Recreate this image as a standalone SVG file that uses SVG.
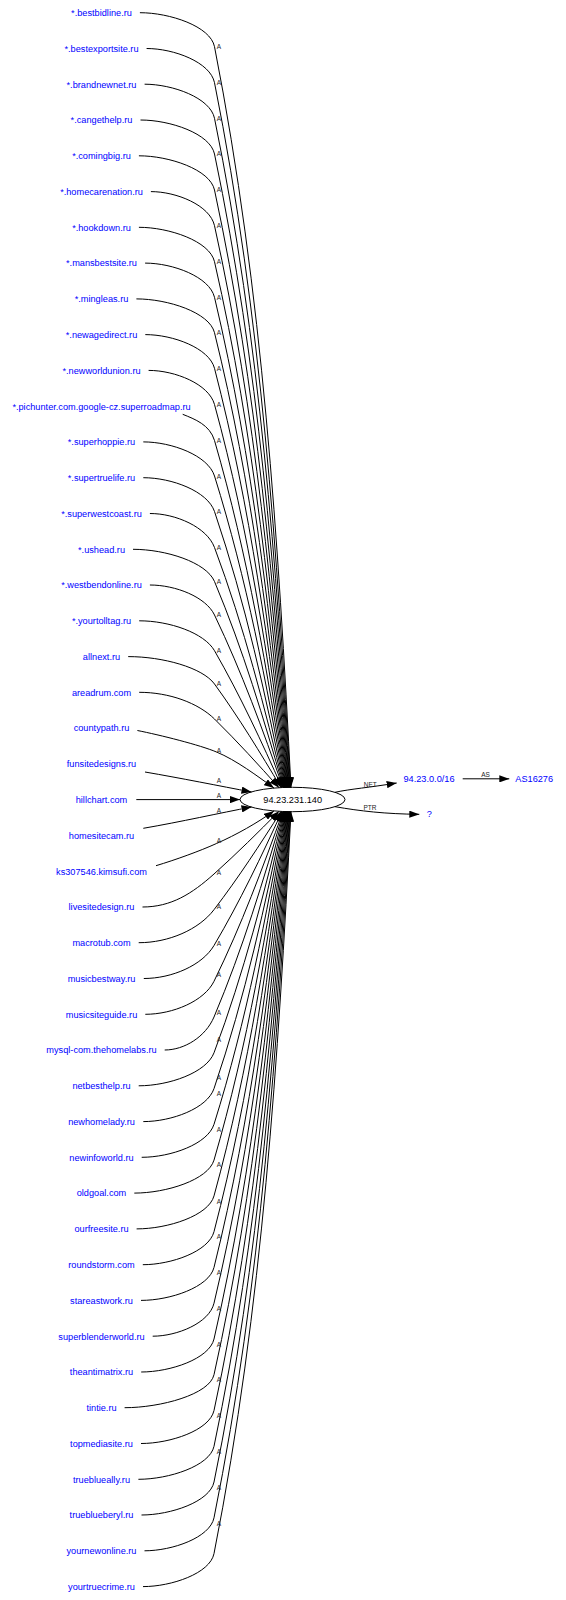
<svg xmlns="http://www.w3.org/2000/svg" width="566" height="1600" viewBox="0 0 566 1600">
<style>
text{font-family:"Liberation Sans",Arial,sans-serif}
.n{font-size:9.2px;fill:#0000ff;text-anchor:middle}
.c{font-size:9.2px;fill:#000;text-anchor:middle}
.l{font-size:6.5px;fill:#222;text-anchor:middle}
#edges path{fill:none;stroke:#000;stroke-width:1;marker-end:url(#ah)}
</style>
<defs>
<marker id="ah" viewBox="0 0 10 7.2" markerWidth="10" markerHeight="7.2" refX="10" refY="3.6" orient="auto" markerUnits="userSpaceOnUse"><path d="M0,0 L10,3.6 L0,7.2 z" fill="#000"/></marker>
</defs>
<rect width="566" height="1600" fill="#fff"/>
<g id="n-center"><ellipse cx="292.5" cy="799.5" rx="52.5" ry="12.2" fill="#fff" stroke="#000"/><text class="c" x="292.7" y="802.8">94.23.231.140</text></g>
<g id="edges">
<path d="M139.9,12.7 C169.7,12.7 210.5,26.3 214.5,46.7 C262.9,293.6 278.3,540.6 291,787.5"/>
<path d="M146.6,48.5 C173.8,48.5 210.4,62.2 214.5,82.7 C261.5,317.6 277.2,552.6 290.5,787.5"/>
<path d="M144.6,84.2 C172.6,84.2 210.3,97.8 214.5,118.3 C260.1,341.4 276.2,564.4 290,787.5"/>
<path d="M140.5,120 C170.1,120 210.2,133.6 214.5,154 C258.7,365.2 275.2,576.3 289.5,787.5"/>
<path d="M138.9,155.8 C169.1,155.8 210.1,169.5 214.5,190 C257.3,389.2 274.2,588.3 289,787.5"/>
<path d="M150.9,191.6 C176.3,191.6 210,205.2 214.5,225.7 C256,413 273.2,600.2 288.5,787.5"/>
<path d="M138.9,227.3 C169.1,227.3 209.8,241.1 214.5,261.7 C254.7,437 272.2,612.2 288,787.5"/>
<path d="M145.1,263.1 C172.9,263.1 209.6,276.8 214.5,297.3 C253.3,460.7 271.2,624.1 287.5,787.5"/>
<path d="M136.4,298.9 C167.6,298.9 209.5,312.4 214.5,332.7 C252,484.3 270.2,635.9 287,787.5"/>
<path d="M145.3,334.6 C173,334.6 209.3,348.1 214.5,368.3 C250.7,508 269.3,647.8 286.5,787.5"/>
<path d="M148.6,370.4 C175,370.4 208.9,384 214.5,404.5 C249.4,532.2 268.3,659.8 286,787.5"/>
<path d="M182.7,414.3 C194.7,419.1 209.9,424.8 214.5,440.5 C248.1,556.2 267.4,671.8 285.5,787.5"/>
<path d="M143.3,441.9 C171.8,441.9 208.1,455.5 214.5,476 C246.9,579.8 266.5,683.7 285,787.5"/>
<path d="M143.3,477.7 C171.8,477.7 207.6,491.2 214.5,511.5 C245.7,603.5 265.5,695.5 284.5,787.5"/>
<path d="M149.9,513.5 C175.7,513.5 206.9,527.1 214.5,547.5 C244.4,627.5 264.6,707.5 284,787.5"/>
<path d="M133,549.3 C165.6,549.3 206.4,562.2 214.5,581.5 C243.3,650.2 263.7,718.8 283.5,787.5"/>
<path d="M149.9,585 C175.7,585 205.9,597 214.5,615 C242.1,672.5 262.8,730 283,787.5"/>
<path d="M139.2,620.8 C169.3,620.8 204.2,632.8 214.5,650.7 C240.7,696.3 261.6,741.9 282,787.5"/>
<path d="M128.2,656.6 C162.7,656.6 202.6,667.6 214.5,684 C239.5,718.5 260.4,753 281,787.5"/>
<path d="M139.2,692.3 C169.3,692.3 198.2,703 214.5,719 C237.8,741.9 258.5,764.8 279,787.7"/>
<path d="M137.4,730.5 C160,735 200,745 216.5,752 C236,760 258,776.5 274,788.1"/>
<path d="M145,772 C180,778 220,786 251.5,792"/>
<path d="M136.3,799.6 L240,799.6"/>
<path d="M143.3,828.3 C180,822 220,813 251.5,807"/>
<path d="M156,865.7 C175,860 200,851 216.5,843.5 C236,835 258,822.5 274,810.9"/>
<path d="M142.5,907 C171.1,907 191.9,893.8 214,874 C237.3,853.1 258.3,832.2 279,811.3"/>
<path d="M138.7,942.7 C168.8,942.7 198.9,929.5 214,909.7 C239,877 260.2,844.2 281,811.5"/>
<path d="M143.8,978.5 C171.9,978.5 202.3,965.3 214,945.5 C240.4,900.8 261.4,856.2 282,811.5"/>
<path d="M145.3,1014.3 C172.8,1014.3 204.3,1001.1 214,981.3 C241.7,924.7 262.6,868.1 283,811.5"/>
<path d="M164.7,1050 C184.4,1050 205.6,1036.8 214,1017 C242.9,948.5 263.5,880 283.5,811.5"/>
<path d="M138.7,1085.8 C168.8,1085.8 206.6,1072.6 214,1052.8 C244.2,972.4 264.5,891.9 284,811.5"/>
<path d="M143.3,1121.6 C171.6,1121.6 207.3,1108.4 214,1088.6 C245.4,996.2 265.4,903.9 284.5,811.5"/>
<path d="M141.7,1157.3 C170.6,1157.3 207.8,1144.1 214,1124.3 C246.7,1020 266.3,915.8 285,811.5"/>
<path d="M134.3,1193.1 C166.2,1193.1 208.2,1179.9 214,1160.1 C247.9,1043.9 267.3,927.7 285.5,811.5"/>
<path d="M136.6,1228.9 C167.7,1228.9 208.6,1215.7 214,1195.9 C249.2,1067.8 268.2,939.6 286,811.5"/>
<path d="M142.8,1264.7 C171.3,1264.7 208.8,1251.5 214,1231.7 C250.5,1091.6 269.2,951.6 286.5,811.5"/>
<path d="M141,1300.4 C170.2,1300.4 209.1,1287.2 214,1267.4 C251.8,1115.4 270.1,963.5 287,811.5"/>
<path d="M152.7,1336.2 C177.2,1336.2 209.3,1323 214,1303.2 C253.1,1139.3 271.1,975.4 287.5,811.5"/>
<path d="M141.2,1372 C170.3,1372 209.4,1358.8 214,1339 C254.5,1163.2 272.1,987.3 288,811.5"/>
<path d="M124.6,1407.7 C160.4,1407.7 209.6,1394.5 214,1374.7 C255.8,1187 273.1,999.2 288.5,811.5"/>
<path d="M141,1443.5 C170.2,1443.5 209.7,1430.3 214,1410.5 C257.2,1210.8 274.1,1011.2 289,811.5"/>
<path d="M138.4,1479.3 C168.6,1479.3 209.8,1466.1 214,1446.3 C258.6,1234.7 275.1,1023.1 289.5,811.5"/>
<path d="M141.5,1515 C170.5,1515 209.9,1501.8 214,1482 C260,1258.5 276.1,1035 290,811.5"/>
<path d="M144.5,1550.8 C172.3,1550.8 210,1537.6 214,1517.8 C261.4,1282.4 277.2,1046.9 290.5,811.5"/>
<path d="M143,1586.6 C171.4,1586.6 210.1,1573.4 214,1553.6 C262.8,1306.2 278.2,1058.9 291,811.5"/>
<path d="M335,792.3 C350,789 370,787.5 396.7,783"/>
<path d="M335,806.7 C360,811 385,814 419.3,814.3"/>
<path d="M462.7,778.8 L509.3,778.8"/>
<g id="edge-labels">
<text class="l" x="219" y="49">A</text>
<text class="l" x="219" y="85">A</text>
<text class="l" x="219" y="120.6">A</text>
<text class="l" x="219" y="156.3">A</text>
<text class="l" x="219" y="192.3">A</text>
<text class="l" x="219" y="228">A</text>
<text class="l" x="219" y="264">A</text>
<text class="l" x="219" y="299.6">A</text>
<text class="l" x="219" y="335">A</text>
<text class="l" x="219" y="370.6">A</text>
<text class="l" x="219" y="407">A</text>
<text class="l" x="219" y="443.3">A</text>
<text class="l" x="219" y="479.3">A</text>
<text class="l" x="219" y="514">A</text>
<text class="l" x="219" y="550.3">A</text>
<text class="l" x="219" y="583.8">A</text>
<text class="l" x="219" y="617.3">A</text>
<text class="l" x="219" y="653">A</text>
<text class="l" x="219" y="686.3">A</text>
<text class="l" x="219" y="721.3">A</text>
<text class="l" x="219" y="752.5">A</text>
<text class="l" x="219" y="783.3">A</text>
<text class="l" x="219" y="797.8">A</text>
<text class="l" x="219" y="812.5">A</text>
<text class="l" x="219" y="843">A</text>
<text class="l" x="219" y="875.3">A</text>
<text class="l" x="219" y="909">A</text>
<text class="l" x="219" y="945.5">A</text>
<text class="l" x="219" y="977.3">A</text>
<text class="l" x="219" y="1014.8">A</text>
<text class="l" x="219" y="1042">A</text>
<text class="l" x="219" y="1080.3">A</text>
<text class="l" x="219" y="1095.6">A</text>
<text class="l" x="219" y="1132">A</text>
<text class="l" x="219" y="1167.3">A</text>
<text class="l" x="219" y="1203.8">A</text>
<text class="l" x="219" y="1239">A</text>
<text class="l" x="219" y="1275">A</text>
<text class="l" x="219" y="1310.6">A</text>
<text class="l" x="219" y="1346.6">A</text>
<text class="l" x="219" y="1382.3">A</text>
<text class="l" x="219" y="1418.3">A</text>
<text class="l" x="219" y="1454">A</text>
<text class="l" x="219" y="1489.6">A</text>
<text class="l" x="219" y="1525.6">A</text>
<text class="l" x="370.2" y="787">NET</text>
<text class="l" x="370" y="809.8">PTR</text>
<text class="l" x="485.5" y="776.8">AS</text>
</g>
</g>
<g id="n0"><text class="n" x="101.5" y="16">*.bestbidline.ru</text></g>
<g id="n1"><text class="n" x="101.5" y="51.8">*.bestexportsite.ru</text></g>
<g id="n2"><text class="n" x="101.5" y="87.5">*.brandnewnet.ru</text></g>
<g id="n3"><text class="n" x="101.5" y="123.3">*.cangethelp.ru</text></g>
<g id="n4"><text class="n" x="101.5" y="159.1">*.comingbig.ru</text></g>
<g id="n5"><text class="n" x="101.5" y="194.9">*.homecarenation.ru</text></g>
<g id="n6"><text class="n" x="101.5" y="230.6">*.hookdown.ru</text></g>
<g id="n7"><text class="n" x="101.5" y="266.4">*.mansbestsite.ru</text></g>
<g id="n8"><text class="n" x="101.5" y="302.2">*.mingleas.ru</text></g>
<g id="n9"><text class="n" x="101.5" y="337.9">*.newagedirect.ru</text></g>
<g id="n10"><text class="n" x="101.5" y="373.7">*.newworldunion.ru</text></g>
<g id="n11"><text class="n" x="101.5" y="409.5">*.pichunter.com.google-cz.superroadmap.ru</text></g>
<g id="n12"><text class="n" x="101.5" y="445.2">*.superhoppie.ru</text></g>
<g id="n13"><text class="n" x="101.5" y="481">*.supertruelife.ru</text></g>
<g id="n14"><text class="n" x="101.5" y="516.8">*.superwestcoast.ru</text></g>
<g id="n15"><text class="n" x="101.5" y="552.6">*.ushead.ru</text></g>
<g id="n16"><text class="n" x="101.5" y="588.3">*.westbendonline.ru</text></g>
<g id="n17"><text class="n" x="101.5" y="624.1">*.yourtolltag.ru</text></g>
<g id="n18"><text class="n" x="101.5" y="659.9">allnext.ru</text></g>
<g id="n19"><text class="n" x="101.5" y="695.6">areadrum.com</text></g>
<g id="n20"><text class="n" x="101.5" y="731.4">countypath.ru</text></g>
<g id="n21"><text class="n" x="101.5" y="767.2">funsitedesigns.ru</text></g>
<g id="n22"><text class="n" x="101.5" y="802.9">hillchart.com</text></g>
<g id="n23"><text class="n" x="101.5" y="838.7">homesitecam.ru</text></g>
<g id="n24"><text class="n" x="101.5" y="874.5">ks307546.kimsufi.com</text></g>
<g id="n25"><text class="n" x="101.5" y="910.3">livesitedesign.ru</text></g>
<g id="n26"><text class="n" x="101.5" y="946">macrotub.com</text></g>
<g id="n27"><text class="n" x="101.5" y="981.8">musicbestway.ru</text></g>
<g id="n28"><text class="n" x="101.5" y="1017.6">musicsiteguide.ru</text></g>
<g id="n29"><text class="n" x="101.5" y="1053.3">mysql-com.thehomelabs.ru</text></g>
<g id="n30"><text class="n" x="101.5" y="1089.1">netbesthelp.ru</text></g>
<g id="n31"><text class="n" x="101.5" y="1124.9">newhomelady.ru</text></g>
<g id="n32"><text class="n" x="101.5" y="1160.6">newinfoworld.ru</text></g>
<g id="n33"><text class="n" x="101.5" y="1196.4">oldgoal.com</text></g>
<g id="n34"><text class="n" x="101.5" y="1232.2">ourfreesite.ru</text></g>
<g id="n35"><text class="n" x="101.5" y="1268">roundstorm.com</text></g>
<g id="n36"><text class="n" x="101.5" y="1303.7">stareastwork.ru</text></g>
<g id="n37"><text class="n" x="101.5" y="1339.5">superblenderworld.ru</text></g>
<g id="n38"><text class="n" x="101.5" y="1375.3">theantimatrix.ru</text></g>
<g id="n39"><text class="n" x="101.5" y="1411">tintie.ru</text></g>
<g id="n40"><text class="n" x="101.5" y="1446.8">topmediasite.ru</text></g>
<g id="n41"><text class="n" x="101.5" y="1482.6">trueblueally.ru</text></g>
<g id="n42"><text class="n" x="101.5" y="1518.3">trueblueberyl.ru</text></g>
<g id="n43"><text class="n" x="101.5" y="1554.1">yournewonline.ru</text></g>
<g id="n44"><text class="n" x="101.5" y="1589.9">yourtruecrime.ru</text></g>
<g id="n-net"><text class="n" x="429" y="782.1">94.23.0.0/16</text></g>
<g id="n-as"><text class="n" x="534.2" y="782.1">AS16276</text></g>
<g id="n-ptr"><text class="n" x="429.2" y="817">?</text></g>
</svg>
